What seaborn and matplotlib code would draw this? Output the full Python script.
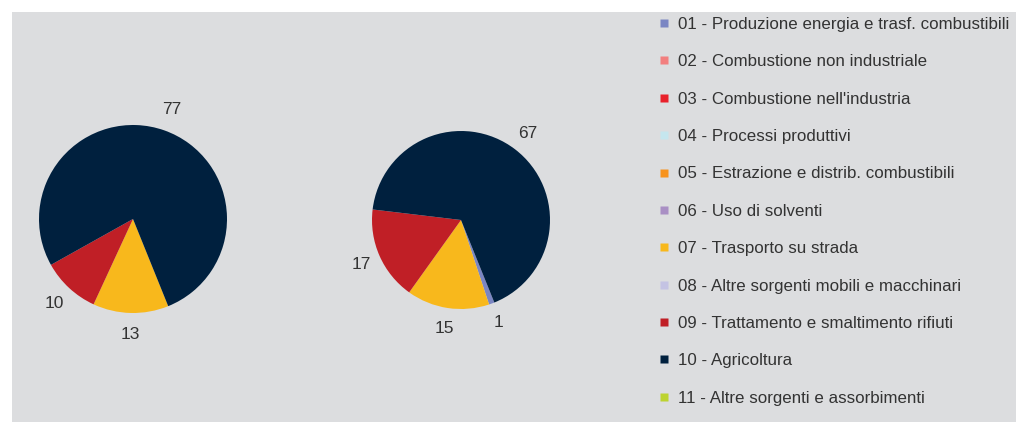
import matplotlib
matplotlib.use("Agg")
import matplotlib.pyplot as plt
import seaborn as sns
from matplotlib.lines import Line2D
from matplotlib.patches import Rectangle

# categorie (legenda) e colori
categorie = ['01 - Produzione energia e trasf. combustibili',
             '02 - Combustione non industriale',
             "03 - Combustione nell'industria",
             '04 - Processi produttivi',
             '05 - Estrazione e distrib. combustibili',
             '06 - Uso di solventi',
             '07 - Trasporto su strada',
             '08 - Altre sorgenti mobili e macchinari',
             '09 - Trattamento e smaltimento rifiuti',
             '10 - Agricoltura',
             '11 - Altre sorgenti e assorbimenti']
colori = ['#7b86c3', '#f27f7f', '#e8212b', '#c5e6ee', '#f7931e', '#a98fc4',
          '#f8b81c', '#c4c3e3', '#c01f26', '#00203e', '#bdd330']

# valori percentuali delle due torte
torta_sx = [0, 0, 0, 0, 0, 0, 13, 0, 10, 77, 0]
torta_dx = [1, 0, 0, 0, 0, 0, 15, 0, 17, 67, 0]

sns.set_theme(style='white')
plt.rcParams['font.family'] = ['Liberation Sans', 'DejaVu Sans']
palette = sns.color_palette(colori)

W, H = 1016, 425
fig = plt.figure(figsize=(W / 100, H / 100), dpi=100)
fig.patch.set_facecolor('white')
fig.patches.append(Rectangle((12 / W, 3 / H), 1 - 12 / W, 410 / H,
                             transform=fig.transFigure, facecolor='#dcdddf',
                             edgecolor='none', zorder=-10))

testo = '#333333'


def disegna(valori, cx, cy, raggio):
    r_ref = 94
    size = 2.5 * r_ref
    ax = fig.add_axes([(cx - size / 2) / W, (H - cy - size / 2) / H, size / W, size / H])
    idx = [i for i, v in enumerate(valori) if v > 0]
    vals = [valori[i] for i in idx]
    cols = [palette[i] for i in idx]
    ax.pie(vals, colors=cols, labels=[str(v) for v in vals], startangle=90 - 158,
           counterclock=False, radius=raggio / r_ref, labeldistance=1.23,
           wedgeprops=dict(linewidth=0),
           textprops=dict(fontsize=12.5, color=testo, ha='center', va='center'))
    ax.set_xlim(-1.25, 1.25)
    ax.set_ylim(-1.25, 1.25)
    ax.set_aspect('equal')
    ax.axis('off')
    return ax


disegna(torta_sx, 133, 219, 94)
disegna(torta_dx, 461, 220, 89)

handles = [Line2D([0], [0], marker='s', linestyle='none', markersize=6,
                  markerfacecolor=c, markeredgecolor='none') for c in palette]
fig.legend(handles, categorie, loc='upper left', bbox_to_anchor=(657.5 / W, 1 - 17 / H),
           frameon=False, fontsize=12.2, labelcolor=testo, handlelength=0.72,
           handletextpad=0.5, labelspacing=1.32, borderpad=0, borderaxespad=0)

fig.savefig('out.png', dpi=100, facecolor='white')
